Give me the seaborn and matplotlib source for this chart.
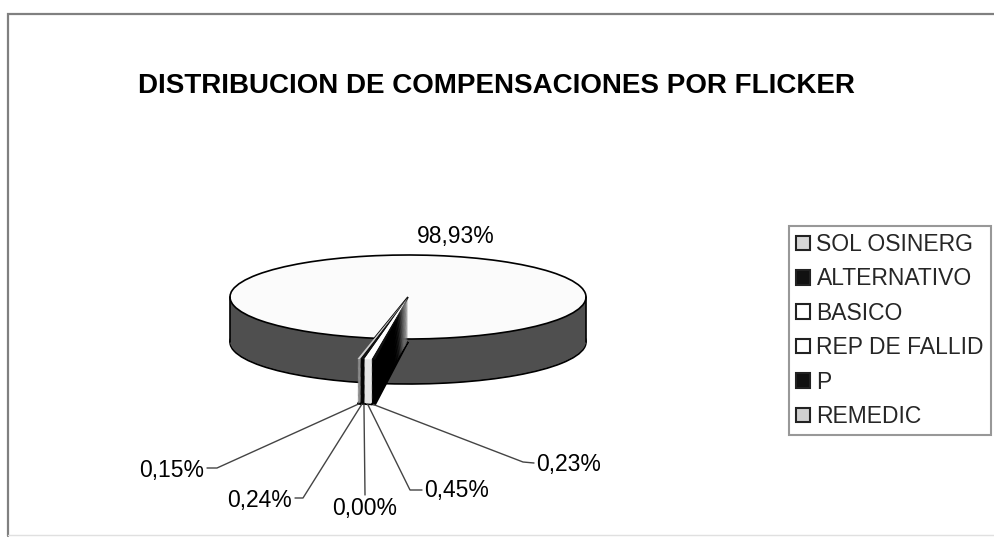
import numpy as np
import matplotlib
matplotlib.use("Agg")
import matplotlib.pyplot as plt
import seaborn as sns
from matplotlib.patches import Patch

# ---------------- data ----------------
categories = ["SOL OSINERG", "ALTERNATIVO", "BASICO", "REP DE FALLID", "P", "REMEDIC"]
values = [98.93, 0.23, 0.45, 0.00, 0.24, 0.15]
pct_labels = ["98,93%", "0,23%", "0,45%", "0,00%", "0,24%", "0,15%"]
title = "DISTRIBUCION DE COMPENSACIONES POR FLICKER"

# ---------------- style ----------------
sns.set_theme(style="white")
plt.rcParams["font.family"] = ["Liberation Sans", "DejaVu Sans"]

top_colors = ["#fbfbfb", "#111111", "#ffffff", "#ffffff", "#111111", "#cfcfcf"]
wall_colors = ["#4f4f4f", "#000000", "#e6e6e6", "#e6e6e6", "#050505", "#8a8a8a"]
legend_colors = ["#d6d6d6", "#111111", "#ffffff", "#ffffff", "#111111", "#d0d0d0"]

W, H = 995, 538
fig = plt.figure(figsize=(W / 100, H / 100), dpi=100)
fig.patch.set_facecolor("white")

# pie axes: 1 data unit = 178 px horizontally, 42 px vertically (tilted look)
a_px, b_px = 178.0, 42.0
cx, cy = 408.0, 297.0
xl = (-1.6, 1.6)
yl = (-3.0, 1.6)
left = cx + xl[0] * a_px
bottom = (H - cy) + yl[0] * b_px
ax = fig.add_axes([left / W, bottom / H, (xl[1] - xl[0]) * a_px / W, (yl[1] - yl[0]) * b_px / H])

h = 45.0 / b_px          # thickness of the disc
N = 40
R_small = 1.5
start = -100.9

def layer(radius, colors, yoff, edge, skip_edge=()):
    wp = dict(linewidth=1.2 if edge else 0, edgecolor="black" if edge else "none")
    w, _ = ax.pie(values, colors=colors, startangle=start, counterclock=False,
                  radius=radius, center=(0, yoff), wedgeprops=wp, frame=True)
    for i in skip_edge:
        w[i].set_edgecolor("none")
    return w

main_wall = [wall_colors[0]] + ["none"] * 5
main_top = [top_colors[0]] + ["none"] * 5
small_wall = ["none"] + wall_colors[1:]
small_top = ["none"] + top_colors[1:]

# main disc
for k in range(N, 0, -1):
    layer(1.0, main_wall, -h * k / N, edge=(k == N), skip_edge=range(1, 6))
ax.plot([-1, -1], [0, -h], color="black", lw=1.2, zorder=5)
ax.plot([1, 1], [0, -h], color="black", lw=1.2, zorder=5)
layer(1.0, main_top, 0, edge=True, skip_edge=range(1, 6))

# small slices (protruding blade)
for k in range(N, 0, -1):
    layer(R_small, small_wall, -h * k / N, edge=(k == N), skip_edge=(0,))
small_w = layer(R_small, small_top, 0, edge=False)

ax.set_xlim(*xl)
ax.set_ylim(*yl)
ax.set_aspect("auto")
ax.axis("off")

# overlay axes in pixel coordinates (origin top-left)
ov = fig.add_axes([0, 0, 1, 1], zorder=10)
ov.set_xlim(0, W)
ov.set_ylim(H, 0)
ov.axis("off")
ov.patch.set_alpha(0)

# chart frame
ov.plot([8, 8, W + 5], [536, 14, 14], color="#808080", lw=1.6, solid_joinstyle="miter")
ov.plot([8, W], [535, 535], color="#e0e0e0", lw=1)

ov.text(496, 86, title, ha="center", va="center", fontsize=20, fontweight="bold", color="black")

fs = 16.5
ov.text(456, 236, pct_labels[0], ha="center", va="center", fontsize=fs, color="black")

# leader lines for small slices
fig.canvas.draw()
label_layout = {
    1: dict(text=(536, 465), ha="left", pts=[(523, 462), (534, 463)]),
    2: dict(text=(424, 491), ha="left", pts=[(410, 490), (422, 490)]),
    3: dict(text=(365, 508), ha="center", pts=[(365, 495)]),
    4: dict(text=(292, 500), ha="right", pts=[(303, 498), (295, 498)]),
    5: dict(text=(204, 470), ha="right", pts=[(217, 468), (207, 468)]),
}
for i in range(1, 6):
    w = small_w[i]
    mid = np.deg2rad((w.theta1 + w.theta2) / 2)
    sx, sy = R_small * np.cos(mid), R_small * np.sin(mid) - h
    dx, dy = ax.transData.transform((sx, sy))
    px, py = dx, H - dy
    lay = label_layout[i]
    xs = [px] + [p[0] for p in lay["pts"]]
    ys = [py] + [p[1] for p in lay["pts"]]
    ov.plot(xs, ys, color="#444444", lw=1.0)
    ov.text(lay["text"][0], lay["text"][1], pct_labels[i], ha=lay["ha"], va="center",
            fontsize=fs, color="black")

# legend
handles = [Patch(facecolor=c, edgecolor="#222222", linewidth=1.5) for c in legend_colors]
leg = fig.legend(handles, categories, loc="upper left", bbox_to_anchor=(789 / W, 1 - 226 / H),
                 fontsize=fs, frameon=True, fancybox=False, edgecolor="#7f7f7f",
                 handlelength=0.6, handleheight=0.6, handletextpad=0.3,
                 labelspacing=0.5, borderpad=0.3, borderaxespad=0)
leg.get_frame().set_linewidth(1.5)

fig.savefig("out.png", dpi=100, facecolor="white")
